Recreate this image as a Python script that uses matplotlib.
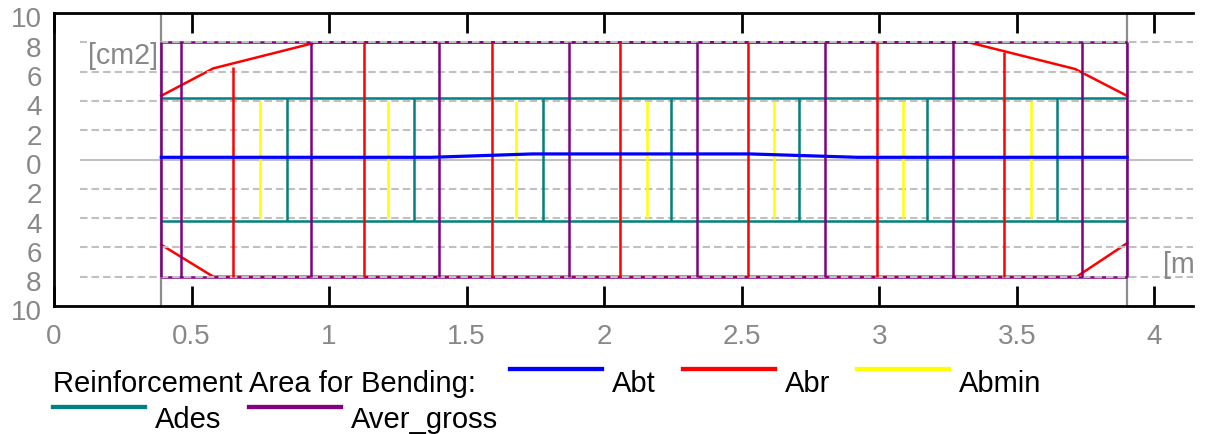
import matplotlib
matplotlib.use("Agg")
import matplotlib.pyplot as plt
from matplotlib.lines import Line2D
from matplotlib.ticker import FuncFormatter, MultipleLocator
from matplotlib.transforms import ScaledTranslation

plt.rcParams['font.family'] = ['Liberation Sans', 'DejaVu Sans']
plt.rcParams['lines.scale_dashes'] = False

### Data (beam reinforcement, [m] along span, [cm2] area)
support_x = [0.39, 3.90]

abt_x = [0.39, 1.37, 1.74, 2.53, 2.92, 3.90]
abt_y = [0.15, 0.15, 0.38, 0.38, 0.15, 0.15]

abr_top_x = [0.39, 0.579, 0.955, 3.324, 3.711, 3.90]
abr_top_y = [4.35, 6.22, 8.0, 8.0, 6.18, 4.35]
abr_bot_x = [0.39, 0.579, 3.717, 3.90]
abr_bot_y = [-5.82, -8.0, -8.0, -5.72]
abr_bar_x = [0.652, 1.126, 1.592, 2.057, 2.523, 2.990, 3.454]
abr_bar_top = [6.3, 8.0, 8.0, 8.0, 8.0, 8.0, 7.35]
abr_bar_bot = [-8.0, -8.0, -8.0, -8.0, -8.0, -8.0, -8.0]

abmin_x = [0.749, 1.213, 1.679, 2.154, 2.618, 3.085, 3.552]
abmin_level = 4.0

ades_x = [0.846, 1.309, 1.776, 2.242, 2.708, 3.173, 3.647]
ades_level = 4.2

aver_x = [0.39, 0.463, 0.933, 1.398, 1.873, 2.338, 2.803, 3.269, 3.736, 3.90]
aver_level = 8.0

grid_dashed = [-8, -6, -4, -2, 2, 4, 6, 8]

legend_title = "Reinforcement Area for Bending:"
series_names = ["Abt", "Abr", "Abmin", "Ades", "Aver_gross"]
series_colors = ["#0000ff", "#ff0000", "#ffff00", "#008080", "#800080"]
BLUE, RED, YELLOW, TEAL, PURPLE = series_colors
GRID = "#c0c0c0"
GRAY = "#888888"
LW = 1.8

W, H = 1209, 435
fig = plt.figure(figsize=(W / 100, H / 100), dpi=100)
ax = fig.add_axes([54 / W, 1 - 307 / H, (1193 - 54) / W, (307 - 14) / H])
x_max = 4.14
ax.set_xlim(0, x_max)
ax.set_ylim(-10, 10)

# grid lines (start a bit right of the axis)
grid_x0 = 0.0945
ax.hlines(grid_dashed, grid_x0, x_max, colors=GRID, lw=1.5,
          linestyles=[(0, (5.4, 2.9))], zorder=2)
ax.hlines(0, grid_x0, x_max, colors=GRID, lw=1.5, zorder=2)

# supports
for xs in support_x:
    ax.axvline(xs, color="#8c8c8c", lw=1.6, zorder=1)

# Abr envelope
ax.plot(abr_top_x, abr_top_y, color=RED, lw=LW, zorder=1.2)
ax.plot(abr_bot_x, abr_bot_y, color=RED, lw=LW, zorder=1.2)

# horizontal outlines
ax.hlines([-aver_level, aver_level], support_x[0], support_x[1], colors=PURPLE, lw=LW, zorder=1.5)
ax.hlines([-ades_level, ades_level], support_x[0], support_x[1], colors=TEAL, lw=LW, zorder=1.5)

# verticals
ax.vlines(aver_x, -aver_level, aver_level, colors=PURPLE, lw=LW, zorder=2.5)
ax.vlines(abr_bar_x, abr_bar_bot, abr_bar_top, colors=RED, lw=LW, zorder=2.6)
ax.vlines(abmin_x, -abmin_level, abmin_level, colors=YELLOW, lw=LW, zorder=2.6)
ax.vlines(ades_x, -ades_level, ades_level, colors=TEAL, lw=LW, zorder=2.6)

ax.plot(abt_x, abt_y, color=BLUE, lw=2.3, zorder=3)

# units
ax.text(0.1236, 7.1, "[cm2]", color=GRAY, fontsize=20.6, va="center", ha="left",
        bbox=dict(fc="white", ec="none", pad=0.5), zorder=4)
ax.text(4.031, -7.13, "[m]", color=GRAY, fontsize=20.6, va="center", ha="left",
        clip_on=True, zorder=4)

# axes styling
ax.xaxis.set_major_locator(MultipleLocator(0.5))
ax.xaxis.set_major_formatter(FuncFormatter(lambda v, p: f"{v:g}"))
ax.yaxis.set_major_locator(MultipleLocator(2))
ax.yaxis.set_major_formatter(FuncFormatter(lambda v, p: f"{abs(v):g}"))
ax.tick_params(axis="x", direction="in", length=14.5, width=2, top=True,
               labelsize=20, labelcolor=GRAY, pad=12)
ax.tick_params(axis="y", length=0, labelsize=20, labelcolor=GRAY, pad=9)
ax.spines["right"].set_visible(False)
for s in ["left", "top", "bottom"]:
    ax.spines[s].set_linewidth(2)

# y labels sit a little low in the original
shift = ScaledTranslation(0, -2.5 / 72, fig.dpi_scale_trans)
for lab in ax.get_yticklabels():
    lab.set_transform(lab.get_transform() + shift)

# legend, laid out by hand
renderer = fig.canvas.get_renderer()

def px(x, y):
    return (x / W, 1 - y / H)

fig.text(*px(53.3, 391.7), legend_title, fontsize=21, va="baseline", ha="left")
rows = [([0, 1, 2], 369.5, 391.7, 510), ([3, 4], 408.2, 427.7, 53.3)]
for items, y_line, y_text, x_start in rows:
    x_next = x_start
    for i in items:
        x0, y0 = px(x_next, y_line)
        x1, _ = px(x_next + 92, y_line)
        fig.add_artist(Line2D([x0, x1], [y0, y0], color=series_colors[i], lw=3.1,
                              transform=fig.transFigure))
        lt = fig.text(*px(x_next + 102, y_text), series_names[i], fontsize=21,
                      va="baseline", ha="left")
        x_next = lt.get_window_extent(renderer).x1 + 27

fig.savefig("out.png", dpi=100)
